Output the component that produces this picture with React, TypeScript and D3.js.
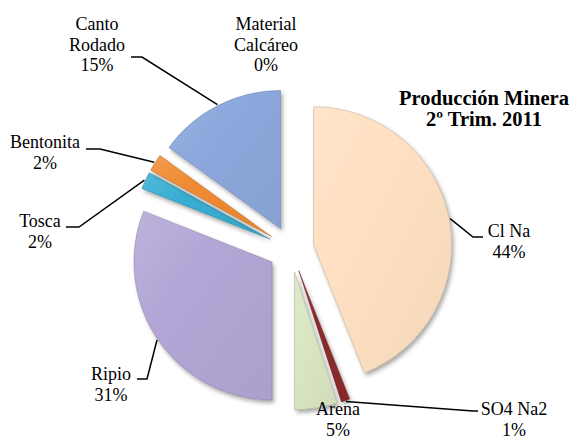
import React from "react";
import * as d3 from "d3";

const categories = ["Cl Na", "SO4 Na2", "Arena", "Ripio", "Tosca", "Bentonita", "Canto Rodado", "Material Calcáreo"];
const values = [44, 1, 5, 31, 2, 2, 15, 0];
const colors = ["#FFE0C2", "#8E2A2A", "#DAE6C2", "#B3A6D6", "#38AED2", "#F08A30", "#8CA8DC", "#B8B8B8"];
const titleLines = ["Producción Minera", "2º Trim. 2011"];

// layout (label positions and leader elbows)
const labelLayout: Record<string, { x: number; y: number; wrap: boolean; leader?: [number, number][] }> = {
  "Cl Na": { x: 509, y: 237, wrap: false, leader: [[473, 237], [483, 237]] },
  "SO4 Na2": { x: 514, y: 415, wrap: false, leader: [[473, 411], [478, 411]] },
  "Arena": { x: 338, y: 415, wrap: false },
  "Ripio": { x: 111, y: 380, wrap: false, leader: [[147, 379], [137, 379]] },
  "Tosca": { x: 40, y: 227, wrap: false, leader: [[79, 227], [66, 227]] },
  "Bentonita": { x: 45, y: 148, wrap: false, leader: [[100, 149], [86, 149]] },
  "Canto Rodado": { x: 97, y: 30, wrap: true, leader: [[142, 57], [131, 57]] },
  "Material Calcáreo": { x: 266, y: 30, wrap: true },
};

const W = 577, H = 439;
const CX = 291, CY = 249, R = 138, EXPLODE = 23, LINE = 20.5;
const FONT = "Liberation Serif, Times New Roman, DejaVu Serif, serif";

export default function App() {
  const total = d3.sum(values);
  const pie = d3.pie<number>().sort(null).startAngle(0).endAngle(2 * Math.PI);
  const arcs = pie(values);
  const arcGen = d3.arc<d3.PieArcDatum<number>>().innerRadius(0).outerRadius(R);
  const dir = (a: number) => [Math.sin(a), -Math.cos(a)];

  const slices = arcs.map((a, i) => {
    const mid = (a.startAngle + a.endAngle) / 2;
    const [dx, dy] = dir(mid);
    const tx = CX + EXPLODE * dx, ty = CY + EXPLODE * dy;
    return { a, i, mid, tx, ty, name: categories[i], color: colors[i] };
  });

  return (
    <svg width={W} height={H} style={{ position: "absolute", left: 0, top: 0, background: "#fff" }}>
      <defs>
        <filter id="shadow" x="-20%" y="-20%" width="140%" height="140%">
          <feDropShadow dx="2" dy="3" stdDeviation="2.2" floodColor="#000" floodOpacity="0.35" />
        </filter>
        {slices.map((s) => {
          const c = d3.color(s.color)!;
          return (
            <linearGradient key={s.i} id={`g${s.i}`} x1="0" y1="0" x2="1" y2="1">
              <stop offset="0%" stopColor={d3.interpolateRgb(s.color, "#fff")(0.15)} />
              <stop offset="35%" stopColor={s.color} />
              <stop offset="100%" stopColor={c.darker(0.12).toString()} />
            </linearGradient>
          );
        })}
        {slices.map((s) => (
          <clipPath key={s.i} id={`c${s.i}`}>
            <path d={arcGen(s.a) || ""} transform={`translate(${s.tx},${s.ty})`} />
          </clipPath>
        ))}
      </defs>

      {slices.map((s) => {
        if (values[s.i] === 0) {
          const [dx, dy] = dir(s.a.startAngle);
          return (
            <g key={s.i} filter="url(#shadow)">
              <line x1={s.tx} y1={s.ty} x2={s.tx + R * dx} y2={s.ty + R * dy} stroke="#9A9A9A" strokeWidth={2.2} />
              <line x1={s.tx} y1={s.ty} x2={s.tx + R * dx} y2={s.ty + R * dy} stroke="#E0E0E0" strokeWidth={0.8} />
            </g>
          );
        }
        const d = arcGen(s.a) || "";
        const c = d3.color(s.color)!;
        return (
          <g key={s.i}>
            <path d={d} transform={`translate(${s.tx},${s.ty})`} fill={`url(#g${s.i})`} filter="url(#shadow)" />
            <path d={d} transform={`translate(${s.tx},${s.ty})`} fill="none"
              stroke={d3.interpolateRgb(s.color, "#fff")(0.5)} strokeOpacity={0.6} strokeWidth={5}
              clipPath={`url(#c${s.i})`} />
            <path d={d} transform={`translate(${s.tx},${s.ty})`} fill="none"
              stroke={c.darker(0.9).toString()} strokeOpacity={0.6} strokeWidth={0.8} />
          </g>
        );
      })}

      {slices.map((s) => {
        const L = labelLayout[s.name];
        if (!L || !L.leader) return null;
        const [dx, dy] = dir(s.mid);
        const p0: [number, number] = [s.tx + (R + 1) * dx, s.ty + (R + 1) * dy];
        const pts = [p0, ...L.leader];
        return (
          <path key={`l${s.i}`} d={d3.line()(pts) || ""} fill="none" stroke="#000" strokeWidth={1.5} />
        );
      })}

      {slices.map((s) => {
        const L = labelLayout[s.name];
        if (!L) return null;
        const nameLines = L.wrap ? s.name.split(" ") : [s.name];
        const pct = `${Math.round((values[s.i] / total) * 100)}%`;
        const lines = [...nameLines, pct];
        return (
          <text key={`t${s.i}`} x={L.x} y={L.y} textAnchor="middle" fill="#000"
            style={{ fontFamily: FONT, fontSize: "18px" }}>
            {lines.map((t, k) => (
              <tspan key={k} x={L.x} y={L.y + k * LINE}>{t}</tspan>
            ))}
          </text>
        );
      })}

      <text x={484} y={105} textAnchor="middle" fill="#000"
        style={{ fontFamily: FONT, fontSize: "20.5px", fontWeight: "bold" }}>
        {titleLines.map((t, k) => (
          <tspan key={k} x={484} y={105 + k * 21}>{t}</tspan>
        ))}
      </text>
    </svg>
  );
}
